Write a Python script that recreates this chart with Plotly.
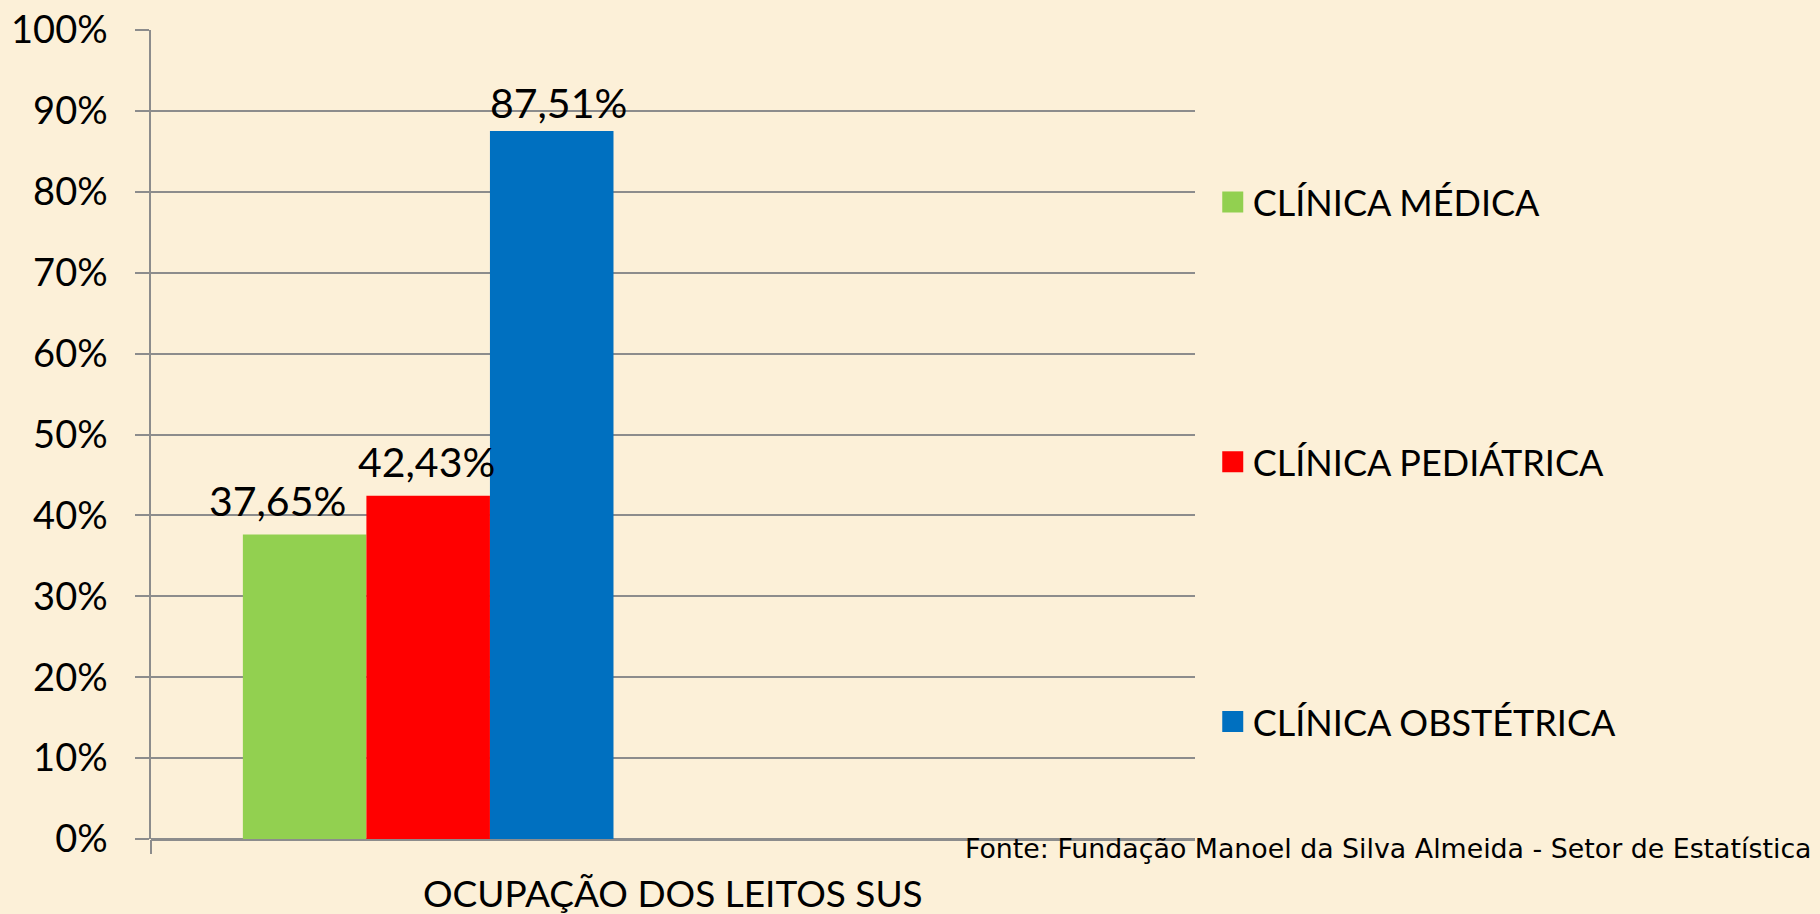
import plotly.graph_objects as go

categories = ["OCUPAÇÃO DOS LEITOS SUS"]
series_names = ["CLÍNICA MÉDICA", "CLÍNICA PEDIÁTRICA", "CLÍNICA OBSTÉTRICA"]
series_values = [[0.3765], [0.4243], [0.8751]]
series_labels = ["37,65%", "42,43%", "87,51%"]
colors = ["#92D050", "#FF0000", "#0070C0"]
y_ticks = [0, 0.1, 0.2, 0.3, 0.4, 0.5, 0.6, 0.7, 0.8, 0.9, 1.0]
y_ticktext = ["0%", "10%", "20%", "30%", "40%", "50%", "60%", "70%", "80%", "90%", "100%"]
source = "Fonte: Fundação Manoel da Silva Almeida - Setor de Estatística"

FONT = "Lato"
BG = "#FCF0D8"
GRID = "#8C8C8C"
BARGAP = 0.29
label_xshift = [-27, -2, 7]
label_yshift = [34, 34, 29]

fig = go.Figure()
n = len(series_names)
for i, (name, vals, lab, col) in enumerate(zip(series_names, series_values, series_labels, colors)):
    fig.add_trace(go.Bar(
        x=[0], y=vals, name=name, marker=dict(color=col, line=dict(width=0)),
        showlegend=False, hoverinfo="skip",
    ))
    fig.add_trace(go.Scatter(
        x=[None], y=[None], mode="markers", name=name,
        marker=dict(symbol="square", size=16, color=col, line=dict(color=col, width=5)),
        legendgroup=f"g{i}", showlegend=True,
    ))
    bar_w = (1 - BARGAP) / n
    fig.add_annotation(
        x=-(1 - BARGAP) / 2 + bar_w * (i + 0.5), y=vals[0], xref="x", yref="y",
        text=lab, showarrow=False, yanchor="middle",
        xshift=label_xshift[i], yshift=label_yshift[i],
        font=dict(family=FONT, size=41, color="black"),
    )

PLOT_TOP, PLOT_BOTTOM, PLOT_LEFT, PLOT_RIGHT = 30, 839, 151, 1195
H = PLOT_BOTTOM - PLOT_TOP
W = PLOT_RIGHT - PLOT_LEFT

fig.update_layout(
    width=1820, height=914,
    paper_bgcolor=BG, plot_bgcolor=BG,
    margin=dict(l=PLOT_LEFT, r=1820 - PLOT_RIGHT, t=PLOT_TOP, b=914 - PLOT_BOTTOM, autoexpand=False),
    barmode="group", bargap=BARGAP, bargroupgap=0,
    font=dict(family=FONT, color="black"),
    legend=dict(
        x=1.017, xanchor="left", y=(PLOT_BOTTOM - 172) / H, yanchor="top",
        font=dict(family=FONT, size=36, color="black"),
        bgcolor="rgba(0,0,0,0)", borderwidth=0,
        tracegroupgap=210, traceorder="grouped", itemwidth=30,
    ),
    xaxis=dict(
        range=[-0.531, 1.469], showgrid=False, zeroline=False,
        showline=False, showticklabels=False, automargin=False,
        ticks="outside", tickvals=[-0.531], ticklen=14, tickwidth=1.5, tickcolor=GRID,
        fixedrange=True,
    ),
    yaxis=dict(
        range=[0, 1], tickvals=y_ticks, ticktext=y_ticktext, automargin=False,
        showgrid=True, gridcolor=GRID, gridwidth=2,
        zeroline=True, zerolinecolor=GRID, zerolinewidth=2.5,
        showline=True, linecolor=GRID, linewidth=1.5,
        ticks="outside", ticklen=14, tickwidth=2, tickcolor=GRID,
        tickfont=dict(family=FONT, size=38, color="black"),
        ticklabelstandoff=20,
        fixedrange=True,
    ),
)

# x-axis title (category name), centred under the plot area
fig.add_annotation(
    text=categories[0], xref="paper", yref="paper",
    x=0.5, xanchor="center", y=-(893 - PLOT_BOTTOM) / H, yanchor="middle",
    showarrow=False, font=dict(family=FONT, size=37, color="black"),
)

fig.add_annotation(
    text=source, xref="paper", yref="paper",
    x=1.0 + (1814 - PLOT_RIGHT) / W, xanchor="right",
    y=-(848 - PLOT_BOTTOM) / H, yanchor="middle",
    showarrow=False, font=dict(family="DejaVu Sans", size=26.8, color="black"),
)

fig.write_html("out.html", config={"displayModeBar": False},
               post_script="document.body.style.margin='0';")
